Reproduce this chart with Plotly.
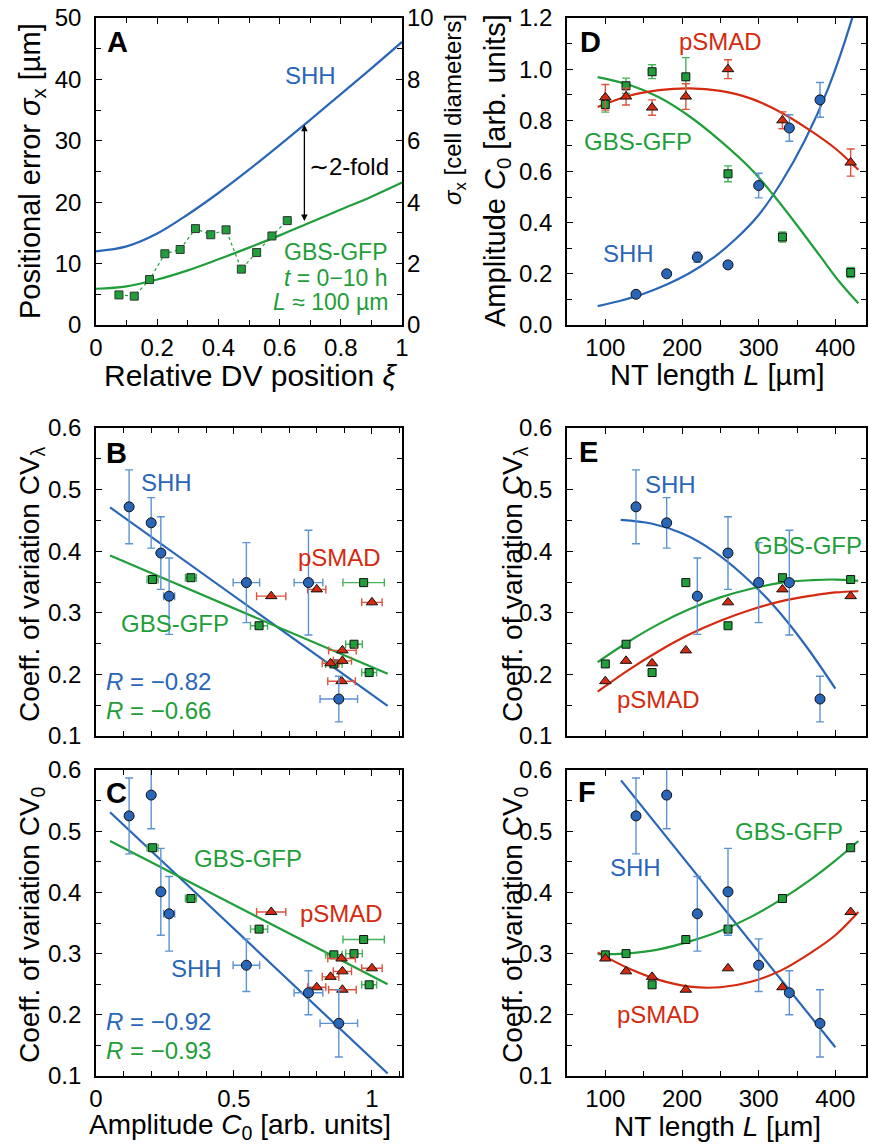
import plotly.graph_objects as go

W, H = 869, 1144

# ---------------- data ----------------
# Panel A
xi_fit = [0.0, 0.1, 0.2, 0.3, 0.4, 0.5, 0.6, 0.7, 0.8, 0.9, 1.0]
sigma_shh_fit = [12.0, 12.8, 14.9, 18.0, 21.5, 25.3, 29.3, 33.4, 37.6, 41.8, 46.1]
sigma_gbs_fit = [5.9, 6.3, 7.4, 8.9, 10.7, 12.6, 14.6, 16.7, 18.8, 20.9, 23.2]
xi_data = [0.075, 0.125, 0.175, 0.225, 0.275, 0.325, 0.375, 0.425, 0.475, 0.525, 0.575, 0.625]
sigma_gbs_data = [4.9, 4.7, 7.4, 11.6, 12.3, 15.7, 14.7, 15.5, 9.1, 11.8, 14.5, 17.0]

# SHH
L_shh = [140, 180, 220, 260, 300, 340, 380]
C0_shh = [0.12, 0.20, 0.265, 0.235, 0.545, 0.77, 0.88]
C0_shh_err = [0.01, 0.0, 0.02, 0.0, 0.048, 0.052, 0.068]
CVl_shh = [0.472, 0.446, 0.327, 0.397, 0.349, 0.349, 0.16]
CVl_shh_err = [0.06, 0.041, 0.062, 0.059, 0.065, 0.085, 0.037]
CV0_shh = [0.525, 0.559, 0.365, 0.401, 0.281, 0.236, 0.186]
CV0_shh_err = [0.062, 0.055, 0.061, 0.071, 0.043, 0.036, 0.055]

# GBS-GFP
L_gbs = [100, 127, 161, 205, 260, 331, 420]
C0_gbs = [0.862, 0.935, 0.99, 0.97, 0.591, 0.344, 0.205]
C0_gbs_err = [0.03, 0.03, 0.027, 0.075, 0.031, 0.02, 0.02]
CVl_gbs = [0.217, 0.249, 0.203, 0.349, 0.279, 0.357, 0.354]
CV0_gbs = [0.298, 0.30, 0.249, 0.323, 0.34, 0.39, 0.473]

# pSMAD
L_psmad = [100, 127, 161, 205, 260, 331, 420]
C0_psmad = [0.89, 0.893, 0.85, 0.893, 1.0, 0.80, 0.635]
C0_psmad_err = [0.05, 0.033, 0.03, 0.05, 0.037, 0.033, 0.053]
CVl_psmad = [0.189, 0.222, 0.218, 0.239, 0.317, 0.338, 0.327]
CV0_psmad = [0.292, 0.271, 0.262, 0.241, 0.276, 0.245, 0.368]

# fitted curves
L_fitD_shh = [90, 120, 150, 180, 210, 240, 270, 300, 330, 360, 390, 420, 430]
C0_fit_shh = [0.074, 0.095, 0.122, 0.158, 0.203, 0.261, 0.336, 0.43, 0.56, 0.72, 0.92, 1.18, 1.29]
L_fit = [90, 130, 170, 210, 250, 290, 320, 350, 380, 405, 430]
C0_fit_gbs = [0.969, 0.94, 0.89, 0.815, 0.72, 0.61, 0.505, 0.39, 0.27, 0.17, 0.085]
L_fit2 = [90, 130, 170, 210, 250, 290, 330, 370, 400, 430]
C0_fit_psmad = [0.852, 0.895, 0.918, 0.925, 0.915, 0.885, 0.83, 0.755, 0.69, 0.607]

L_fitE_shh = [120, 160, 200, 240, 280, 320, 360, 400]
CVl_fit_shh = [0.451, 0.445, 0.429, 0.401, 0.361, 0.311, 0.249, 0.177]
CVl_fit_gbs = [0.220, 0.253, 0.282, 0.306, 0.325, 0.339, 0.349, 0.353, 0.354, 0.352]
CVl_fit_psmad = [0.172, 0.207, 0.238, 0.265, 0.287, 0.305, 0.319, 0.328, 0.333, 0.335]

L_fitF_shh = [120.5, 400]
CV0_fit_shh = [0.583, 0.147]
CV0_fit_gbs = [0.299, 0.3005, 0.307, 0.32, 0.337, 0.36, 0.389, 0.423, 0.452, 0.484]
CV0_fit_psmad = [0.302, 0.276, 0.257, 0.246, 0.245, 0.254, 0.273, 0.303, 0.330, 0.368]

C0_line = [0.051, 1.057]
CVl_line_shh = [0.471, 0.149]
CVl_line_gbs = [0.393, 0.201]
CV0_line_shh = [0.531, 0.104]
CV0_line_gbs = [0.484, 0.25]

# ---------------- style ----------------
BLUE = '#2966b8'
GREEN = '#1f9e3a'
RED = '#d42a10'
BLUE_E = '#5c93d4'
GREEN_E = '#45b35a'
RED_E = '#e0523c'
FONT = 'Liberation Sans'
TICK = 24
TITLE = 29
ANN = 24


def px(x):
    return x / W


def py(y):
    return 1 - y / H


fig = go.Figure()


def axis(domain, rng, dtick, mdtick, anchor, labels=True, fmt=None, standoff=0):
    d = dict(domain=domain, range=rng, dtick=dtick, tick0=0, anchor=anchor,
             automargin=False,
             ticks='inside', ticklen=6, tickwidth=1.2, tickcolor='black',
             showline=True, linecolor='black', linewidth=1.6, mirror='ticks',
             showgrid=False, zeroline=False, showticklabels=labels,
             tickfont=dict(size=TICK, color='black', family=FONT),
             ticklabelstandoff=standoff,
             minor=dict(dtick=mdtick, ticks='inside', ticklen=5, tickwidth=1.2,
                        tickcolor='black', showgrid=False))
    if fmt:
        d['tickformat'] = fmt
    return d


XL = [96 / W, 402 / W]
XR = [567 / W, 866 / W]
Y1 = [py(325), py(18)]
Y2 = [py(736), py(428)]
Y3 = [py(1076), py(770)]
XS = 0   # x tick label standoff
YS = 8   # y tick label standoff

layout = dict(
    width=W, height=H, autosize=False, margin=dict(l=0, r=0, t=0, b=0, pad=0, autoexpand=False),
    paper_bgcolor='white', plot_bgcolor='white', showlegend=False,
    font=dict(family=FONT, color='black'),
    # A
    xaxis=axis(XL, [0, 1], 0.2, 0.1, 'y', standoff=XS),
    yaxis=axis(Y1, [0, 50], 10, 5, 'x', standoff=YS),
    yaxis2=dict(overlaying='y', side='right', range=[0, 10], dtick=2, anchor='x',
                automargin=False,
                ticks='', showline=False, showgrid=False, zeroline=False,
                tickfont=dict(size=TICK, color='black', family=FONT), ticklabelstandoff=4),
    # D
    xaxis2=axis(XR, [50, 440], 100, 50, 'y3', standoff=XS),
    yaxis3=axis(Y1, [0, 1.2], 0.2, 0.1, 'x2', fmt='.1f', standoff=YS),
    # B
    xaxis3=axis(XL, [0, 1.109], 0.5, 0.1, 'y4', labels=False),
    yaxis4=axis(Y2, [0.1, 0.6], 0.1, 0.05, 'x3', fmt='.1f', standoff=YS),
    # E
    xaxis4=axis(XR, [50, 440], 100, 50, 'y5', labels=False),
    yaxis5=axis(Y2, [0.1, 0.6], 0.1, 0.05, 'x4', fmt='.1f', standoff=YS),
    # C
    xaxis5=axis(XL, [0, 1.109], 0.5, 0.1, 'y6', standoff=XS),
    yaxis6=axis(Y3, [0.1, 0.6], 0.1, 0.05, 'x5', fmt='.1f', standoff=YS),
    # F
    xaxis6=axis(XR, [50, 440], 100, 50, 'y7', standoff=XS),
    yaxis7=axis(Y3, [0.1, 0.6], 0.1, 0.05, 'x6', fmt='.1f', standoff=YS),
)
fig.update_layout(**layout)


def line(x, y, color, xa, ya, width=2.2, dash=None, shape='spline'):
    fig.add_trace(go.Scatter(x=x, y=y, mode='lines', xaxis=xa, yaxis=ya,
                             line=dict(color=color, width=width, dash=dash, shape=shape),
                             hoverinfo='skip'))


def pts(x, y, color, symbol, size, xa, ya, ex=None, ey=None, ecolor=None):
    kw = {}
    if ex is not None:
        kw['error_x'] = dict(type='data', array=ex, color=ecolor, thickness=1.4, width=4)
    if ey is not None:
        kw['error_y'] = dict(type='data', array=ey, color=ecolor, thickness=1.4, width=4)
    fig.add_trace(go.Scatter(x=x, y=y, mode='markers', xaxis=xa, yaxis=ya,
                             marker=dict(color=color, symbol=symbol, size=size,
                                         line=dict(color='#111111', width=1)), **kw))


# ---- Panel A ----
line(xi_fit, sigma_shh_fit, BLUE, 'x', 'y')
line(xi_fit, sigma_gbs_fit, GREEN, 'x', 'y')
fig.add_trace(go.Scatter(x=xi_data, y=sigma_gbs_data, mode='lines+markers', xaxis='x', yaxis='y',
                         line=dict(color=GREEN, width=1.2, dash='dot'),
                         marker=dict(color=GREEN, symbol='square', size=8,
                                     line=dict(color='#333333', width=1))))
fig.add_trace(go.Scatter(x=[0], y=[0], xaxis='x', yaxis='y2', mode='markers',
                         marker=dict(opacity=0), hoverinfo='skip'))

# ---- Panel D ----
line(L_fitD_shh, C0_fit_shh, BLUE, 'x2', 'y3')
line(L_fit, C0_fit_gbs, GREEN, 'x2', 'y3')
line(L_fit2, C0_fit_psmad, RED, 'x2', 'y3')
pts(L_gbs, C0_gbs, GREEN, 'square', 8, 'x2', 'y3', ey=C0_gbs_err, ecolor=GREEN_E)
pts(L_psmad, C0_psmad, RED, 'triangle-up', 10, 'x2', 'y3', ey=C0_psmad_err, ecolor=RED_E)
pts(L_shh, C0_shh, BLUE, 'circle', 10, 'x2', 'y3', ey=C0_shh_err, ecolor=BLUE_E)

# ---- Panel B ----
line(C0_line, CVl_line_shh, BLUE, 'x3', 'y4', shape='linear')
line(C0_line, CVl_line_gbs, GREEN, 'x3', 'y4', shape='linear')
pts(C0_gbs, CVl_gbs, GREEN, 'square', 8, 'x3', 'y4', ex=C0_gbs_err, ecolor=GREEN_E)
pts(C0_psmad, CVl_psmad, RED, 'triangle-up', 10, 'x3', 'y4', ex=C0_psmad_err, ecolor=RED_E)
pts(C0_shh, CVl_shh, BLUE, 'circle', 10, 'x3', 'y4', ex=C0_shh_err, ey=CVl_shh_err, ecolor=BLUE_E)

# ---- Panel E ----
line(L_fitE_shh, CVl_fit_shh, BLUE, 'x4', 'y5')
line(L_fit2, CVl_fit_gbs, GREEN, 'x4', 'y5')
line(L_fit2, CVl_fit_psmad, RED, 'x4', 'y5')
pts(L_gbs, CVl_gbs, GREEN, 'square', 8, 'x4', 'y5')
pts(L_psmad, CVl_psmad, RED, 'triangle-up', 10, 'x4', 'y5')
pts(L_shh, CVl_shh, BLUE, 'circle', 10, 'x4', 'y5', ey=CVl_shh_err, ecolor=BLUE_E)

# ---- Panel C ----
line(C0_line, CV0_line_shh, BLUE, 'x5', 'y6', shape='linear')
line(C0_line, CV0_line_gbs, GREEN, 'x5', 'y6', shape='linear')
pts(C0_gbs, CV0_gbs, GREEN, 'square', 8, 'x5', 'y6', ex=C0_gbs_err, ecolor=GREEN_E)
pts(C0_psmad, CV0_psmad, RED, 'triangle-up', 10, 'x5', 'y6', ex=C0_psmad_err, ecolor=RED_E)
pts(C0_shh, CV0_shh, BLUE, 'circle', 10, 'x5', 'y6', ex=C0_shh_err, ey=CV0_shh_err, ecolor=BLUE_E)

# ---- Panel F ----
line(L_fitF_shh, CV0_fit_shh, BLUE, 'x6', 'y7', shape='linear')
line(L_fit2, CV0_fit_gbs, GREEN, 'x6', 'y7')
line(L_fit2, CV0_fit_psmad, RED, 'x6', 'y7')
pts(L_gbs, CV0_gbs, GREEN, 'square', 8, 'x6', 'y7')
pts(L_psmad, CV0_psmad, RED, 'triangle-up', 10, 'x6', 'y7')
pts(L_shh, CV0_shh, BLUE, 'circle', 10, 'x6', 'y7', ey=CV0_shh_err, ecolor=BLUE_E)

# ---------------- annotations ----------------
ann = []


def text(t, x, y, xa, ya, color, size=ANN, xanchor='center', yanchor='middle'):
    ann.append(dict(text=t, x=x, y=y, xref=xa, yref=ya, showarrow=False,
                    font=dict(size=size, color=color, family=FONT),
                    xanchor=xanchor, yanchor=yanchor))


def ptext(t, x, y, size=TITLE, angle=0, xanchor='center', yanchor='middle', bold=False):
    if bold:
        t = '<b>' + t + '</b>'
    ann.append(dict(text=t, x=px(x), y=py(y), xref='paper', yref='paper', showarrow=False,
                    textangle=angle, font=dict(size=size, color='black', family=FONT),
                    xanchor=xanchor, yanchor=yanchor))


# panel letters
for letter, (x, y) in {'A': (118, 42), 'D': (590, 42), 'B': (117, 453), 'E': (588, 452),
                       'C': (117, 793), 'F': (587, 792)}.items():
    ptext(letter, x, y, size=29, bold=True)

# axis titles
ptext('Positional error <i>σ</i><sub>x</sub> [µm]', 32, 171, angle=-90)
ptext('<i>σ</i><sub>x</sub> [cell diameters]', 455, 110, size=24, angle=-90)
ptext('Relative DV position <i>ξ</i>', 250, 375, size=30)
ptext('Amplitude <i>C</i><sub>0</sub> [arb. units]', 497, 171, angle=-90)
ptext('NT length <i>L</i> [µm]', 717, 375)
ptext('Coeff. of variation CV<sub>λ</sub>', 31, 584, size=28, angle=-90)
ptext('Coeff. of variation CV<sub>λ</sub>', 514, 584, size=28, angle=-90)
ptext('Coeff. of variation CV<sub>0</sub>', 31, 925, size=28, angle=-90)
ptext('Coeff. of variation CV<sub>0</sub>', 514, 925, size=28, angle=-90)
ptext('Amplitude <i>C</i><sub>0</sub> [arb. units]', 240, 1126, size=28)
ptext('NT length <i>L</i> [µm]', 717, 1126, size=28)

# Panel A labels
text('SHH', 0.70, 40.7, 'x', 'y', BLUE)
text('GBS-GFP', 0.96, 11.9, 'x', 'y', GREEN, size=23, xanchor='right')
text('<i>t</i> = 0−10 h', 0.96, 7.6, 'x', 'y', GREEN, size=23, xanchor='right')
text('<i>L</i> ≈ 100 µm', 0.96, 3.8, 'x', 'y', GREEN, size=23, xanchor='right')
text('∼2-fold', 0.69, 25.8, 'x', 'y', 'black', size=24, xanchor='left')
ann.append(dict(x=0.681, y=32.6, ax=0.681, ay=16.7, xref='x', yref='y', axref='x', ayref='y',
                text='', showarrow=True, arrowhead=2, startarrowhead=2, arrowside='end+start',
                arrowwidth=1.3, arrowsize=1, startarrowsize=1, arrowcolor='black',
                standoff=0, startstandoff=0))

# Panel D labels
text('pSMAD', 250, 1.11, 'x2', 'y3', RED)
text('GBS-GFP', 142, 0.716, 'x2', 'y3', GREEN)
text('SHH', 130, 0.28, 'x2', 'y3', BLUE)

# Panel B labels
text('SHH', 0.257, 0.511, 'x3', 'y4', BLUE)
text('pSMAD', 0.884, 0.389, 'x3', 'y4', RED)
text('GBS-GFP', 0.286, 0.283, 'x3', 'y4', GREEN)
text('<i>R</i> = −0.82', 0.03, 0.189, 'x3', 'y4', BLUE, xanchor='left')
text('<i>R</i> = −0.66', 0.03, 0.142, 'x3', 'y4', GREEN, xanchor='left')

# Panel E labels
text('SHH', 184.5, 0.508, 'x4', 'y5', BLUE)
text('GBS-GFP', 364, 0.409, 'x4', 'y5', GREEN)
text('pSMAD', 169, 0.160, 'x4', 'y5', RED)

# Panel C labels
text('GBS-GFP', 0.551, 0.455, 'x5', 'y6', GREEN)
text('pSMAD', 0.888, 0.366, 'x5', 'y6', RED)
text('SHH', 0.366, 0.276, 'x5', 'y6', BLUE)
text('<i>R</i> = −0.92', 0.03, 0.189, 'x5', 'y6', BLUE, xanchor='left')
text('<i>R</i> = −0.93', 0.03, 0.142, 'x5', 'y6', GREEN, xanchor='left')

# Panel F labels
text('GBS-GFP', 339, 0.50, 'x6', 'y7', GREEN)
text('SHH', 139, 0.44, 'x6', 'y7', BLUE)
text('pSMAD', 169, 0.20, 'x6', 'y7', RED)

fig.update_layout(annotations=ann)
fig.write_html('out.html', config={'displayModeBar': False},
               post_script="document.body.style.margin='0';document.body.style.overflow='hidden';")
